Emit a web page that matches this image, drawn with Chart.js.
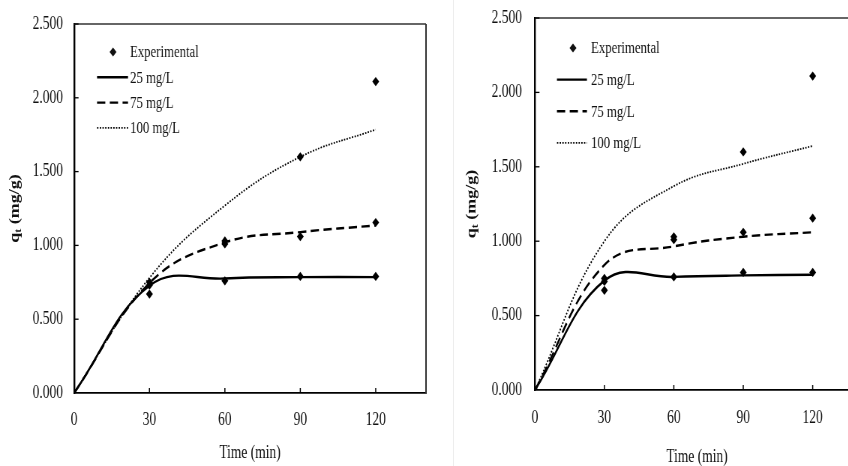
<!DOCTYPE html>
<html>
<head>
<meta charset="utf-8">
<script src="https://cdn.jsdelivr.net/npm/chart.js@4.4.1/dist/chart.umd.min.js"></script>
<style>
  html, body { margin: 0; padding: 0; background: #fff; width: 848px; height: 466px; overflow: hidden; position: relative; }
  .panel { position: absolute; top: 0; height: 466px; transform-origin: 0 0; transform: scaleX(0.75); }
  #leftPanel { left: 0; width: 603px; }
  #rightPanel { left: 453px; width: 560px; }
  .sep { position: absolute; left: 453px; top: 0; width: 1px; height: 466px; background: #ededed; }
  canvas { display: block; }
</style>
</head>
<body>
<div class="panel" id="leftPanel"><canvas id="chartLeft" width="603" height="466" style="width:603px;height:466px"></canvas></div>
<div class="sep"></div>
<div class="panel" id="rightPanel"><canvas id="chartRight" width="560" height="466" style="width:560px;height:466px"></canvas></div>
<script>
// Sorption time (min) and measured uptake q_t (mg/g)
const expTime = [0, 30, 30, 30, 60, 60, 60, 90, 90, 90, 120, 120, 120];
const expQ    = [0, 0.67, 0.73, 0.75, 0.76, 1.01, 1.03, 0.79, 1.06, 1.60, 0.79, 1.155, 2.11];

// Model curves, evaluated at the sampling times
const modelTime = [0, 30, 60, 90, 120];
const leftQ25   = [0, 0.727, 0.776, 0.785, 0.785];
const leftQ75   = [0, 0.745, 1.02, 1.09, 1.135];
const leftQ100  = [0, 0.78, 1.27, 1.60, 1.785];
const rightQ25  = [0, 0.735, 0.76, 0.77, 0.775];
const rightQ75  = [0, 0.84, 0.965, 1.03, 1.06];
const rightQ100 = [0, 1.00, 1.37, 1.52, 1.64];

const seriesLabels = ['Experimental', '25 mg/L', '75 mg/L', '100 mg/L'];
const xTickValues = [0, 30, 60, 90, 120];
const yTickValues = [0, 0.5, 1.0, 1.5, 2.0, 2.5];

const SERIF = "'Liberation Serif', 'Times New Roman', serif";
Chart.defaults.font.family = SERIF;
Chart.defaults.color = '#111';

const toPoints = (xs, ys) => xs.map((x, i) => ({ x: x, y: ys[i] }));

// Top/right frame of the plot area plus inward tick marks
const frameLines = {
  id: 'frameLines',
  beforeDatasetsDraw(chart, args, opts) {
    const { ctx, chartArea: a, scales } = chart;
    ctx.save();
    ctx.strokeStyle = opts.color;
    ctx.lineWidth = opts.hWidth;
    ctx.beginPath(); ctx.moveTo(a.left, a.top); ctx.lineTo(a.right, a.top); ctx.stroke();
    ctx.lineWidth = opts.vWidth;
    ctx.beginPath(); ctx.moveTo(a.right, a.top); ctx.lineTo(a.right, a.bottom); ctx.stroke();
    ctx.strokeStyle = '#000';
    ctx.lineWidth = 1.5;
    scales.x.ticks.forEach(t => {
      if (t.value === 0) return;
      const px = scales.x.getPixelForValue(t.value);
      ctx.beginPath(); ctx.moveTo(px, a.bottom); ctx.lineTo(px, a.bottom - 5); ctx.stroke();
    });
    ctx.lineWidth = 1.3;
    scales.y.ticks.forEach(t => {
      if (t.value === 0) return;
      const py = scales.y.getPixelForValue(t.value);
      ctx.beginPath(); ctx.moveTo(a.left, py); ctx.lineTo(a.left + 6, py); ctx.stroke();
    });
    ctx.restore();
  }
};

// Legend drawn inside the plot area, top-left
const insetLegend = {
  id: 'insetLegend',
  afterDatasetsDraw(chart, args, opts) {
    const { ctx, chartArea: a } = chart;
    ctx.save();
    ctx.font = '17px ' + SERIF;
    ctx.textBaseline = 'middle';
    ctx.fillStyle = '#111';
    chart.data.datasets.forEach((ds, i) => {
      const y = a.top + opts.top + i * opts.rowGap;
      if (ds.showLine === false) {
        const cx = a.left + opts.markerX, r = 4.6;
        ctx.beginPath();
        ctx.moveTo(cx, y - r); ctx.lineTo(cx + r, y); ctx.lineTo(cx, y + r); ctx.lineTo(cx - r, y);
        ctx.closePath();
        ctx.fill();
      } else {
        ctx.save();
        ctx.strokeStyle = ds.borderColor;
        ctx.lineWidth = ds.borderWidth;
        ctx.setLineDash(ds.borderDash || []);
        ctx.beginPath();
        ctx.moveTo(a.left + opts.lineX0, y); ctx.lineTo(a.left + opts.lineX1, y);
        ctx.stroke();
        ctx.restore();
      }
      ctx.fillText(ds.label, a.left + opts.textX, y + 1);
    });
    ctx.restore();
  }
};

// Rotated y-axis title with subscript t
const yAxisTitle = {
  id: 'yAxisTitle',
  afterDraw(chart, args, opts) {
    const { ctx, chartArea: a } = chart;
    const main = 'bold 18px ' + SERIF, sub = 'bold 12px ' + SERIF;
    ctx.save();
    ctx.fillStyle = '#111';
    ctx.textBaseline = 'middle';
    ctx.font = main; const wq = ctx.measureText('q').width; const wr = ctx.measureText(' (mg/g)').width;
    ctx.font = sub; const wt = ctx.measureText('t').width;
    const total = wq + wt + wr;
    ctx.translate(opts.x, (a.top + a.bottom) / 2);
    ctx.rotate(-Math.PI / 2);
    let s = -total / 2;
    ctx.font = main; ctx.fillText('q', s, 0);
    ctx.font = sub; ctx.fillText('t', s + wq, 5);
    ctx.font = main; ctx.fillText(' (mg/g)', s + wq + wt, 0);
    ctx.restore();
  }
};

function buildChart(id, q25, q75, q100, lay) {
  const datasets = [
    { label: seriesLabels[0], data: toPoints(expTime, expQ), showLine: false,
      pointStyle: 'rectRot', pointRadius: 4.6, backgroundColor: '#000', borderColor: '#000', borderWidth: 0 },
    { label: seriesLabels[1], data: toPoints(modelTime, q25), showLine: true, pointRadius: 0,
      borderColor: '#000', borderWidth: 2.4, borderDash: [], tension: 0.4 },
    { label: seriesLabels[2], data: toPoints(modelTime, q75), showLine: true, pointRadius: 0,
      borderColor: '#000', borderWidth: 2.4, borderDash: [11, 6], tension: 0.4 },
    { label: seriesLabels[3], data: toPoints(modelTime, q100), showLine: true, pointRadius: 0,
      borderColor: '#000', borderWidth: 1.8, borderDash: [1.8, 1.8], tension: 0.4 }
  ];
  return new Chart(document.getElementById(id), {
    type: 'scatter',
    data: { datasets },
    options: {
      responsive: false,
      animation: false,
      devicePixelRatio: 1,
      events: [],
      layout: { padding: { left: 0, right: lay.padRight, top: lay.padTop, bottom: 0 } },
      plugins: {
        legend: { display: false },
        tooltip: { enabled: false },
        frameLines: { color: '#333', hWidth: 1.6, vWidth: 2.0 },
        insetLegend: lay.legend,
        yAxisTitle: { x: lay.titleX }
      },
      scales: {
        x: {
          type: 'linear', min: 0, max: 140,
          afterBuildTicks: s => { s.ticks = xTickValues.map(v => ({ value: v })); },
          afterFit: s => { s.height = lay.xHeight; },
          grid: { display: false, drawTicks: false },
          border: { display: true, color: '#000', width: 1.8 },
          ticks: { font: { size: 18 }, color: '#111', padding: lay.xTickPad, maxRotation: 0 },
          title: { display: true, text: 'Time (min)', font: { size: 18 }, color: '#111',
                   padding: { top: 0, bottom: lay.xTitlePad } }
        },
        y: {
          type: 'linear', min: 0, max: 2.5,
          afterBuildTicks: s => { s.ticks = yTickValues.map(v => ({ value: v })); },
          afterFit: s => { s.width = lay.yWidth; s.paddingTop = 4; s.paddingBottom = 4; },
          grid: { display: false, drawTicks: false },
          border: { display: true, color: '#000', width: 2.4 },
          ticks: { font: { size: 18 }, color: '#111', padding: lay.yTickPad,
                   callback: v => Number(v).toFixed(3) }
        }
      }
    },
    plugins: [frameLines, insetLegend, yAxisTitle]
  });
}

buildChart('chartLeft', leftQ25, leftQ75, leftQ100, {
  padRight: 35, padTop: 24, xHeight: 73, yWidth: 98.7,
  xTickPad: 16.5, xTitlePad: 1.5, yTickPad: 14.7, titleX: 20,
  legend: { top: 28, rowGap: 25.3, markerX: 52, lineX0: 30.7, lineX1: 72, textX: 74.7 }
});

buildChart('chartRight', rightQ25, rightQ75, rightQ100, {
  padRight: 18.7, padTop: 18, xHeight: 76, yWidth: 109.3,
  xTickPad: 17.5, xTitlePad: -2, yTickPad: 17.3, titleX: 25.3,
  legend: { top: 30, rowGap: 31.6, markerX: 50.7, lineX0: 29.3, lineX1: 69.3, textX: 74.7 }
});
</script>
</body>
</html>
